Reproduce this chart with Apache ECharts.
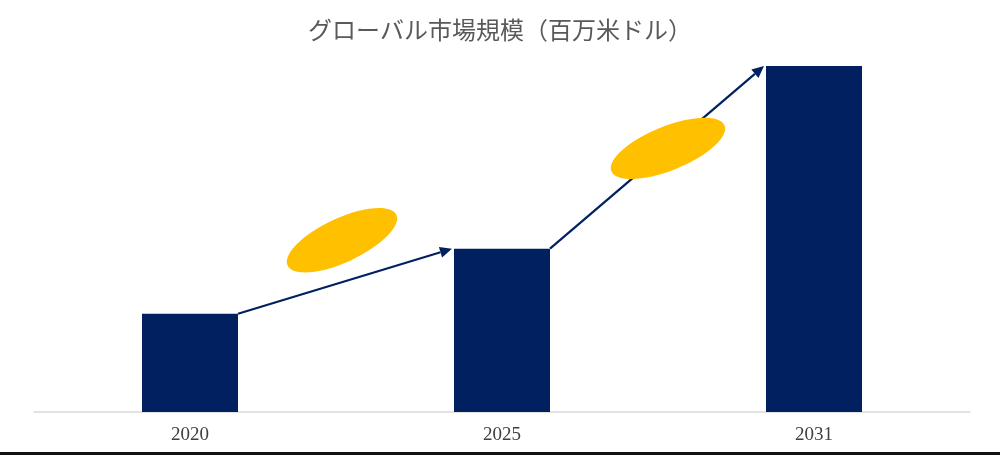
<!DOCTYPE html>
<html>
<head>
<meta charset="utf-8">
<script src="https://cdn.jsdelivr.net/npm/echarts@6/dist/echarts.min.js"></script>
<style>
    html, body { margin: 0; padding: 0; background: #fff; }
    #main { width: 1000px; height: 452px; border-bottom: 3px solid #111; }
</style>
</head>
<body>
<div id="main"></div>
<script>
// chart data
var years = ['2020', '2025', '2031'];
var marketSize = [284, 472, 1000];
// growth arrows: from bar index -> to bar index
var growthSteps = [[0, 1], [1, 2]];

var chartDom = document.getElementById('main');
var myChart = echarts.init(chartDom);
var option;

var navy = '#002060';
var gold = '#FFC000';

// ellipse placement relative to the arrow midpoint (px), and tilt
var ellipseStyle = [
    { dx: -3, dy: -41, rx: 60, ry: 22, rot: 25 },
    { dx: 11, dy: -9, rx: 61, ry: 22, rot: 22 }
];

function renderGrowth(params, api) {
    var from = api.value(0);
    var to = api.value(1);
    var halfBar = api.size([1, 0])[0] * 0.3077 / 2;
    var p0 = api.coord([from, marketSize[from]]);
    var p1 = api.coord([to, marketSize[to]]);
    var x0 = p0[0] + halfBar, y0 = p0[1];
    var x1 = p1[0] - halfBar - 2, y1 = p1[1];
    var ang = Math.atan2(y1 - y0, x1 - x0);
    var headLen = 12, headW = 5.5;
    var bx = x1 - headLen * Math.cos(ang), by = y1 - headLen * Math.sin(ang);
    var px = -Math.sin(ang) * headW, py = Math.cos(ang) * headW;
    var es = ellipseStyle[params.dataIndex];
    var mx = (x0 + x1) / 2, my = (y0 + y1) / 2;
    return {
        type: 'group',
        children: [
            {
                type: 'line',
                shape: { x1: x0, y1: y0, x2: bx, y2: by },
                style: { stroke: navy, lineWidth: 2.2 }
            },
            {
                type: 'polygon',
                shape: { points: [[x1, y1], [bx + px, by + py], [bx - px, by - py]] },
                style: { fill: navy }
            },
            {
                type: 'ellipse',
                x: mx + es.dx,
                y: my + es.dy,
                rotation: es.rot * Math.PI / 180,
                shape: { cx: 0, cy: 0, rx: es.rx, ry: es.ry },
                style: { fill: gold }
            }
        ]
    };
}

option = {
    animation: false,
    title: {
        text: 'グローバル市場規模（百万米ドル）',
        left: 'center',
        top: 13,
        textStyle: {
            fontFamily: 'Noto Sans CJK JP',
            fontSize: 24,
            fontWeight: 'normal',
            color: '#595959'
        }
    },
    grid: {
        left: 34,
        right: 30,
        top: 66,
        bottom: 40
    },
    xAxis: {
        type: 'category',
        data: years,
        axisLine: { lineStyle: { color: '#d9d9d9', width: 1.5 } },
        axisTick: { show: false },
        axisLabel: {
            margin: 14,
            fontFamily: 'Liberation Serif',
            fontSize: 19,
            color: '#404040'
        }
    },
    yAxis: {
        type: 'value',
        min: 0,
        max: 1000,
        show: false,
        splitLine: { show: false }
    },
    series: [
        {
            type: 'bar',
            data: marketSize,
            barWidth: 96,
            itemStyle: { color: navy },
            z: 2
        },
        {
            type: 'custom',
            renderItem: renderGrowth,
            data: growthSteps,
            encode: { x: 0 },
            z: 3,
            silent: true
        }
    ]
};

option && myChart.setOption(option);

window.addEventListener('resize', function () {
    myChart.resize();
});
</script>
</body>
</html>
